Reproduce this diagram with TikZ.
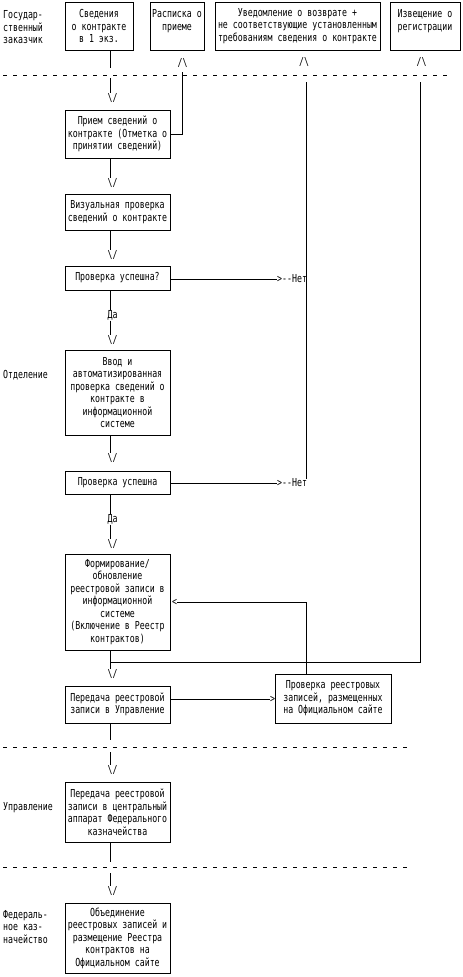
\documentclass[tikz,border=0pt]{standalone}
\usepackage{fontspec}
\newfontfamily\pix[FakeStretch=0.75]{DejaVu Sans Mono}
\begin{document}
\begin{tikzpicture}[x=1pt,y=-1pt,
  every node/.style={font=\pix\fontsize{11}{12.5}\selectfont, inner sep=0pt},
  box/.style={draw, line width=1pt, align=center},
  mainbox/.style={box, minimum width=105pt},
  conn/.style={line width=1pt},
  dashline/.style={line width=1pt, dash pattern=on 4pt off 6pt},
  lbl/.style={anchor=west, align=left}]
\useasboundingbox (0,0) rectangle (463,977);

% top row
\node[box, minimum width=68pt, minimum height=48pt] (b1) at (99,26) {Сведения\\о контракте\\в 1 экз.};
\node[box, minimum width=54pt, minimum height=48pt] (b2) at (177,26) {Расписка о\\приеме\\\mbox{}};
\node[box, minimum width=165pt, minimum height=48pt] (b3) at (297.5,26) {Уведомление о возврате +\\не соответствующие установленным\\требованиям сведения о контракте};
\node[box, minimum width=70pt, minimum height=48pt] (b4) at (425,26) {Извещение о\\регистрации\\\mbox{}};

% main column
\node[mainbox, minimum height=48pt] (b5) at (117.5,134) {Прием сведений о\\контракте (Отметка о\\принятии сведений)};
\node[mainbox, minimum height=36pt] (b6) at (117.5,212) {Визуальная проверка\\сведений о контракте};
\node[mainbox, minimum height=24pt] (b7) at (117.5,278) {Проверка успешна?};
\node[mainbox, minimum height=85pt] (b8) at (117.5,392.5) {Ввод и\\автоматизированная\\проверка сведений о\\контракте в\\информационной\\системе};
\node[mainbox, minimum height=23pt] (b9) at (117.5,482.5) {Проверка успешна};
\node[mainbox, minimum height=96pt] (b10) at (117.5,602) {Формирование/\\обновление\\реестровой записи в\\информационной\\системе\\(Включение в Реестр\\контрактов)};
\node[mainbox, minimum height=37pt] (b11) at (117.5,704.5) {Передача реестровой\\записи в Управление};
\node[box, minimum width=116pt, minimum height=49pt] (b12) at (333,698.5) {Проверка реестровых\\записей, размещенных\\на Официальном сайте};
\node[mainbox, minimum height=60pt] (b13) at (117.5,812) {Передача реестровой\\записи в центральный\\аппарат Федерального\\казначейства};
\node[mainbox, minimum height=70pt] (b14) at (117.5,938) {Объединение\\реестровых записей и\\размещение Реестра\\контрактов на\\Официальном сайте};

% lane labels
\node[lbl] (l1) at (3,27.5) {Государ-\\ственный\\заказчик};
\node[lbl] (l2) at (3,375) {Отделение};
\node[lbl] (l3) at (3,808) {Управление};
\node[lbl] (l4) at (3,927) {Федераль-\\ное каз-\\начейство};

% lane separators
\coordinate (d1a) at (3,75); \coordinate (d1b) at (447,75);
\coordinate (d2a) at (3,747); \coordinate (d2b) at (407,747);
\coordinate (d3a) at (3,867); \coordinate (d3b) at (407,867);
\draw[dashline] (d1a) -- (d1b);
\draw[dashline] (d2a) -- (d2b);
\draw[dashline] (d3a) -- (d3b);

% ascii tips and labels
\node (td1) at (112.5,97.5) {\textbackslash/};
\node (td2) at (112.5,182.5) {\textbackslash/};
\node (td3) at (112.5,255) {\textbackslash/};
\node (td4) at (112.5,340) {\textbackslash/};
\node (td5) at (112.5,458) {\textbackslash/};
\node (td6) at (112.5,543.5) {\textbackslash/};
\node (td7) at (112.5,674) {\textbackslash/};
\node (td8) at (112.5,770) {\textbackslash/};
\node (td9) at (112.5,891) {\textbackslash/};
\node (tu1) at (182.5,63) {/\textbackslash};
\node (tu2) at (304,62) {/\textbackslash};
\node (tu3) at (421.5,62) {/\textbackslash};
\node (da1) at (112.5,315.5) {Да};
\node (da2) at (112.5,519.5) {Да};
\node[anchor=west] (n1) at (277,279) {>-\kern0pt-Нет};
\node[anchor=west] (n2) at (277,483) {>-\kern0pt-Нет};
\node (lt) at (174.5,602) {<};
\node (gt) at (272.5,699) {>};

% connectors
\coordinate (col) at (110,0);
\coordinate (g0a) at (110,68); \coordinate (g0b) at (110,78);
\coordinate (g2a) at (110,740); \coordinate (g2b) at (110,752);
\coordinate (g3a) at (110,862); \coordinate (g3b) at (110,873);
\coordinate (u1) at (182,72);
\coordinate (u2) at (306,82);
\coordinate (u3) at (420,82);
\coordinate (j) at (110,662);

\draw[conn] (b1.south -| col) -- (g0a);
\draw[conn] (g0b) -- (td1.north -| col);
\draw[conn] (b5.south -| col) -- (td2.north -| col);
\draw[conn] (b6.south -| col) -- (td3.north -| col);
\draw[conn] (b7.south -| col) -- (da1.north -| col);
\draw[conn] (da1.south -| col) -- (td4.north -| col);
\draw[conn] (b8.south -| col) -- (td5.north -| col);
\draw[conn] (b9.south -| col) -- (da2.north -| col);
\draw[conn] (da2.south -| col) -- (td6.north -| col);
\draw[conn] (b10.south -| col) -- (td7.north -| col);
\draw[conn] (b11.south -| col) -- (g2a);
\draw[conn] (g2b) -- (td8.north -| col);
\draw[conn] (b13.south -| col) -- (g3a);
\draw[conn] (g3b) -- (td9.north -| col);

\draw[conn] (u1) |- (b5.east);
\draw[conn] (n1.west -| b7.east) -- (n1.west);
\draw[conn] (n2.west -| b9.east) -- (n2.west);
\draw[conn] (u2) -- (n2.north -| u2);
\draw[conn] (b12.north -| u2) |- (lt.east);
\draw[conn] (j) -| (u3);
\draw[conn] (gt.west -| b11.east) -- (gt.west);
\end{tikzpicture}
\end{document}
